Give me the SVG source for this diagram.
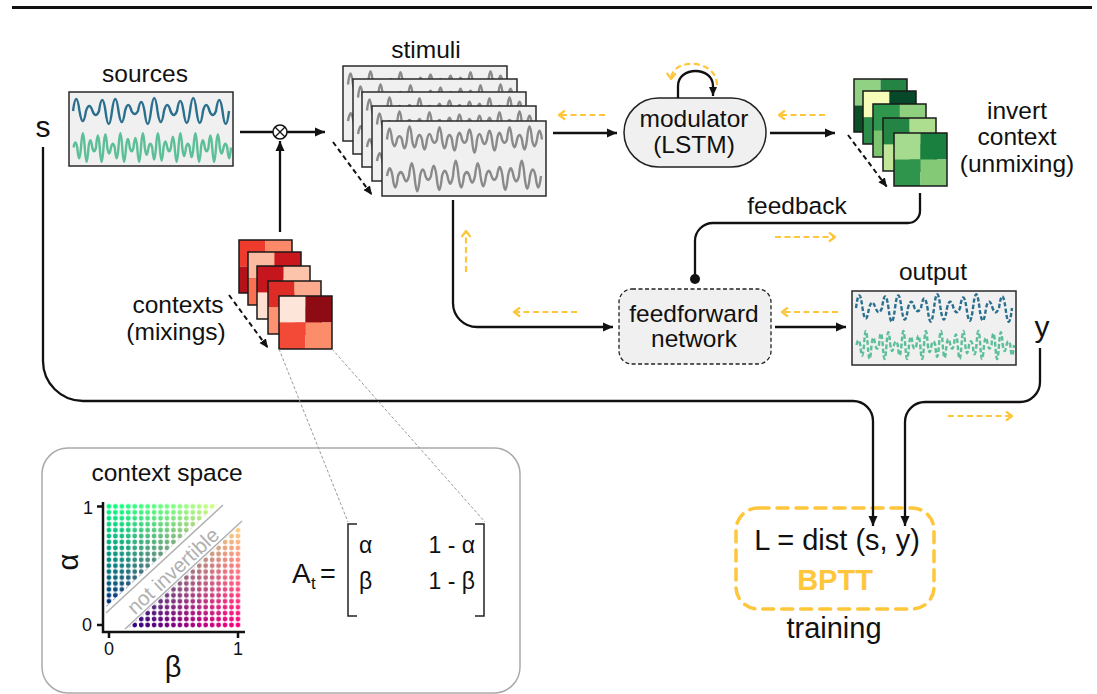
<svg xmlns="http://www.w3.org/2000/svg" xmlns:xlink="http://www.w3.org/1999/xlink" width="1097" height="694" viewBox="0 0 1097 694">
  <style>
    text { font-family: "Liberation Sans", Arial, Helvetica, sans-serif; fill: #111; }
    .lbl { font-size: 24.5px; text-anchor: middle; }
    .var { font-size: 30px; text-anchor: middle; }
    .tick { font-size: 18px; text-anchor: middle; }
    .mat { font-size: 23px; }
    .panel-box { fill: #f0f0f0; stroke: #2a2a2a; stroke-width: 1.5; }
    .wave { fill: none; stroke-width: 2.4; stroke-linejoin: round; vector-effect: non-scaling-stroke; }
    .blue { stroke: #2b6f8e; }
    .green { stroke: #5cbf98; }
    .grey { stroke: #8a8a8a; }
    .dashed-wave { stroke-dasharray: 4 2; }
    .cell-border { fill: none; stroke: #1a1a1a; stroke-width: 1.5; }
    .conn { fill: none; stroke: #111; stroke-width: 2.3; }
    .conn-dash { fill: none; stroke: #111; stroke-width: 2; stroke-dasharray: 5 3.5; }
    .grad-flow { fill: none; stroke: #fec63a; stroke-width: 2.2; stroke-dasharray: 6 3.5; }
    .guide { fill: none; stroke: #9a9a9a; stroke-width: 1; stroke-dasharray: 3 2; }
  </style>
  <defs>
    <marker id="arrow" markerUnits="userSpaceOnUse" markerWidth="11" markerHeight="10" refX="10" refY="5" orient="auto">
      <path d="M0,0.5 L10,5 L0,9.5 z" fill="#111"/>
    </marker>
    <marker id="arrow-small" markerUnits="userSpaceOnUse" markerWidth="10" markerHeight="9" refX="9" refY="4.5" orient="auto">
      <path d="M0,0.5 L9,4.5 L0,8.5 z" fill="#111"/>
    </marker>
    <marker id="chevron" markerUnits="userSpaceOnUse" markerWidth="10" markerHeight="11" refX="7.5" refY="5.5" orient="auto">
      <path d="M1.5,1 L7.5,5.5 L1.5,10" fill="none" stroke="#fec63a" stroke-width="2.2" stroke-linejoin="round"/>
    </marker>
    <marker id="dot" markerUnits="userSpaceOnUse" markerWidth="12" markerHeight="12" refX="6" refY="6" orient="auto">
      <circle cx="6" cy="6" r="5" fill="#111"/>
    </marker>

    <!-- signal traces, drawn around a zero line -->
    <path id="wave-a" d="M0,0 Q3.25,-24 6.5,0 Q9.75,20 13,0 Q16.25,-10 19.5,0 Q22.75,8 26,0 Q29.25,-22 32.5,0 Q35.75,26 39,0 Q42.25,-24 45.5,0 Q48.75,22 52,0 Q55.25,-12 58.5,0 Q61.75,6 65,0 Q68.25,-18 71.5,0 Q74.75,26 78,0 Q81.25,-26 84.5,0 Q87.75,22 91,0 Q94.25,-12 97.5,0 Q100.75,8 104,0 Q107.25,-20 110.5,0 Q113.75,24 117,0 Q120.25,-26 123.5,0 Q126.75,24 130,0 Q133.25,-12 136.5,0 Q139.75,8 143,0 Q146.25,-22 149.5,0 Q152.75,26 156,0"/>
    <path id="wave-b" d="M0,0 Q1.875,-8 3.75,0 Q5.625,18 7.5,0 Q9.375,-24 11.25,0 Q13.125,24 15,0 Q16.875,-12 18.75,0 Q20.625,6 22.5,0 Q24.375,-20 26.25,0 Q28.125,24 30,0 Q31.875,-22 33.75,0 Q35.625,10 37.5,0 Q39.375,-6 41.25,0 Q43.125,18 45,0 Q46.875,-24 48.75,0 Q50.625,24 52.5,0 Q54.375,-14 56.25,0 Q58.125,6 60,0 Q61.875,-16 63.75,0 Q65.625,24 67.5,0 Q69.375,-24 71.25,0 Q73.125,12 75,0 Q76.875,-6 78.75,0 Q80.625,20 82.5,0 Q84.375,-24 86.25,0 Q88.125,22 90,0 Q91.875,-10 93.75,0 Q95.625,6 97.5,0 Q99.375,-18 101.25,0 Q103.125,24 105,0 Q106.875,-24 108.75,0 Q110.625,14 112.5,0 Q114.375,-6 116.25,0 Q118.125,16 120,0 Q121.875,-24 123.75,0 Q125.625,24 127.5,0 Q129.375,-12 131.25,0 Q133.125,6 135,0 Q136.875,-20 138.75,0 Q140.625,24 142.5,0 Q144.375,-22 146.25,0 Q148.125,10 150,0 Q151.875,-6 153.75,0 Q155.625,18 157.5,0"/>
    <path id="wave-c" d="M0,0 Q2.5,-20 5,0 Q7.5,12 10,0 Q12.5,-6 15,0 Q17.5,16 20,0 Q22.5,-24 25,0 Q27.5,14 30,0 Q32.5,-8 35,0 Q37.5,18 40,0 Q42.5,-10 45,0 Q47.5,6 50,0 Q52.5,-22 55,0 Q57.5,16 60,0 Q62.5,-8 65,0 Q67.5,20 70,0 Q72.5,-12 75,0 Q77.5,6 80,0 Q82.5,-18 85,0 Q87.5,24 90,0 Q92.5,-10 95,0 Q97.5,8 100,0 Q102.5,-16 105,0 Q107.5,20 110,0 Q112.5,-12 115,0 Q117.5,6 120,0 Q122.5,-22 125,0 Q127.5,14 130,0 Q132.5,-8 135,0 Q137.5,18 140,0 Q142.5,-24 145,0 Q147.5,12 150,0 Q152.5,-16 155,0"/>
    <path id="wave-d" d="M0,0 Q2.75,-12 5.5,0 Q8.25,18 11,0 Q13.75,-6 16.5,0 Q19.25,8 22,0 Q24.75,-20 27.5,0 Q30.25,24 33,0 Q35.75,-10 38.5,0 Q41.25,6 44,0 Q46.75,-16 49.5,0 Q52.25,22 55,0 Q57.75,-8 60.5,0 Q63.25,12 66,0 Q68.75,-24 71.5,0 Q74.25,18 77,0 Q79.75,-6 82.5,0 Q85.25,10 88,0 Q90.75,-20 93.5,0 Q96.25,16 99,0 Q101.75,-8 104.5,0 Q107.25,6 110,0 Q112.75,-14 115.5,0 Q118.25,22 121,0 Q123.75,-12 126.5,0 Q129.25,8 132,0 Q134.75,-24 137.5,0 Q140.25,20 143,0 Q145.75,-10 148.5,0 Q151.25,18 154,0"/>

    <!-- one stimulus card: two mixed signals -->
    <g id="stim-card">
      <rect class="panel-box" x="0" y="0" width="164" height="75"/>
      <use href="#wave-c" class="wave grey" transform="translate(5,18.5) scale(1,1.1)"/>
      <use href="#wave-d" class="wave grey" transform="translate(5,55) scale(1,1.25)"/>
    </g>

    <!-- context space: colour = (beta, alpha) -->
    <linearGradient id="g-beta" gradientUnits="userSpaceOnUse" x1="109" y1="0" x2="238" y2="0">
      <stop offset="0" stop-color="rgb(0,0,128)"/>
      <stop offset="1" stop-color="rgb(255,0,128)"/>
    </linearGradient>
    <linearGradient id="g-alpha" gradientUnits="userSpaceOnUse" x1="0" y1="625" x2="0" y2="506.4">
      <stop offset="0" stop-color="rgb(0,0,0)"/>
      <stop offset="1" stop-color="rgb(0,255,0)"/>
    </linearGradient>
    <pattern id="dot-grid" patternUnits="userSpaceOnUse" x="105.775" y="503.435" width="6.45" height="5.93">
      <circle cx="3.225" cy="2.965" r="2.35" fill="#fff"/>
    </pattern>
    <mask id="dot-mask" maskUnits="userSpaceOnUse" x="100" y="495" width="150" height="140">
      <rect x="100" y="495" width="150" height="140" fill="url(#dot-grid)"/>
    </mask>
    <clipPath id="invertible">
      <polygon points="105.8,607.2 105.8,503.4 218.7,503.4"/>
      <polygon points="128.4,628 241.2,628 241.2,524.2"/>
    </clipPath>
  </defs>

  <rect x="0" y="0" width="1097" height="694" fill="#fff"/>
  <line x1="12" y1="7.5" x2="1092" y2="7.5" stroke="#111" stroke-width="3"/>

  <!-- context space panel -->
  <g id="context-space">
    <rect x="42" y="448" width="478" height="245" rx="26" fill="#fff" stroke="#aaa" stroke-width="1.5"/>
    <text class="lbl" x="167" y="481">context space</text>
    <g clip-path="url(#invertible)">
      <g mask="url(#dot-mask)">
        <g style="isolation:isolate">
          <rect x="100" y="495" width="150" height="140" fill="url(#g-beta)"/>
          <rect x="100" y="495" width="150" height="140" fill="url(#g-alpha)" style="mix-blend-mode:screen"/>
        </g>
      </g>
    </g>
    <line x1="106" y1="613" x2="223" y2="505" stroke="#b0b0b0" stroke-width="1.5"/>
    <line x1="125" y1="629" x2="242" y2="521" stroke="#b0b0b0" stroke-width="1.5"/>
    <text x="0" y="7" transform="translate(173,571) rotate(-42.6)" style="font-size:20.5px;fill:#b0b0b0;text-anchor:middle">not invertible</text>
    <path d="M103,502 V632 H245" fill="none" stroke="#111" stroke-width="2.5"/>
    <path d="M97,506.4 H103 M97,625 H103 M109,632 V638 M238,632 V638" stroke="#111" stroke-width="2.5"/>
    <text class="tick" x="88" y="514">1</text>
    <text class="tick" x="87" y="631">0</text>
    <text class="tick" x="109" y="655">0</text>
    <text class="tick" x="238" y="655">1</text>
    <text x="0" y="0" transform="translate(78,562) rotate(-90)" style="font-size:29px;text-anchor:middle">α</text>
    <text x="173" y="677" style="font-size:29px;text-anchor:middle">β</text>
  </g>

  <!-- mixing matrix -->
  <g id="mixing-matrix">
    <text x="292" y="583" style="font-size:28px">A</text>
    <text x="311" y="589" style="font-size:17px">t</text>
    <text x="320" y="583" style="font-size:27px">=</text>
    <path d="M357,524 H348 V616 H357 M475,524 H484 V616 H475" fill="none" stroke="#222" stroke-width="1.5"/>
    <text class="mat" x="359" y="553">α</text>
    <text class="mat" x="475" y="553" text-anchor="end">1 - α</text>
    <text class="mat" x="359" y="589">β</text>
    <text class="mat" x="475" y="589" text-anchor="end">1 - β</text>
  </g>

  <!-- sources -->
  <g id="sources">
    <text class="lbl" x="145" y="82">sources</text>
    <rect class="panel-box" x="69" y="92" width="164" height="74"/>
    <use href="#wave-a" class="wave blue" transform="translate(73,111)"/>
    <use href="#wave-b" class="wave green" transform="translate(73.5,147.5) scale(1,1.18)"/>
  </g>
  <text class="var" x="43" y="137" id="label-s">s</text>

  <!-- mixing operator -->
  <g id="mix-op">
    <circle cx="280" cy="132" r="7" fill="#fff" stroke="#111" stroke-width="1.5"/>
    <path d="M275,127 L285,137 M275,137 L285,127" stroke="#111" stroke-width="1.3"/>
  </g>

  <!-- stimuli stack -->
  <g id="stimuli">
    <text class="lbl" x="426" y="58">stimuli</text>
    <use href="#stim-card" x="343" y="66"/>
    <use href="#stim-card" x="353" y="79"/>
    <use href="#stim-card" x="362" y="92"/>
    <use href="#stim-card" x="372" y="106"/>
    <use href="#stim-card" x="382" y="121"/>
  </g>

  <!-- modulator -->
  <g id="modulator">
    <rect x="624" y="98" width="142" height="69" rx="34.5" fill="#f0f0f0" stroke="#222" stroke-width="1.5"/>
    <text class="lbl" x="694" y="127">modulator</text>
    <text class="lbl" x="694" y="153">(LSTM)</text>
  </g>

  <!-- invert context stack (greens) -->
  <g id="invert-context">
    <g transform="translate(854,79)">
      <rect width="26.5" height="26.5" fill="#91d183"/><rect x="26.5" width="26.5" height="26.5" fill="#238443"/>
      <rect y="26.5" width="26.5" height="26.5" fill="#0b4f27"/><rect x="26.5" y="26.5" width="26.5" height="26.5" fill="#78c679"/>
      <rect class="cell-border" width="53" height="53"/>
    </g>
    <g transform="translate(863,91)">
      <rect width="26.5" height="26.5" fill="#f7fcb9"/><rect x="26.5" width="26.5" height="26.5" fill="#07482a"/>
      <rect y="26.5" width="26.5" height="26.5" fill="#2c8c49"/><rect x="26.5" y="26.5" width="26.5" height="26.5" fill="#a6d96a"/>
      <rect class="cell-border" width="53" height="53"/>
    </g>
    <g transform="translate(873,104)">
      <rect width="26.5" height="26.5" fill="#2f974d"/><rect x="26.5" width="26.5" height="26.5" fill="#8fd07f"/>
      <rect y="26.5" width="26.5" height="26.5" fill="#7cc470"/><rect x="26.5" y="26.5" width="26.5" height="26.5" fill="#238443"/>
      <rect class="cell-border" width="53" height="53"/>
    </g>
    <g transform="translate(883,118)">
      <rect width="26.5" height="26.5" fill="#238443"/><rect x="26.5" width="26.5" height="26.5" fill="#addd8e"/>
      <rect y="26.5" width="26.5" height="26.5" fill="#c2e699"/><rect x="26.5" y="26.5" width="26.5" height="26.5" fill="#238443"/>
      <rect class="cell-border" width="53" height="53"/>
    </g>
    <g transform="translate(894,133)">
      <rect width="26.5" height="26.5" fill="#a5db8f"/><rect x="26.5" width="26.5" height="26.5" fill="#19803f"/>
      <rect y="26.5" width="26.5" height="26.5" fill="#2f944c"/><rect x="26.5" y="26.5" width="26.5" height="26.5" fill="#84ca76"/>
      <rect class="cell-border" width="53" height="53"/>
    </g>
    <text class="lbl" x="1017" y="119">invert</text>
    <text class="lbl" x="1017" y="145">context</text>
    <text class="lbl" x="1017" y="172">(unmixing)</text>
  </g>

  <!-- contexts stack (reds) -->
  <g id="contexts">
    <g transform="translate(239,240)">
      <rect width="26.5" height="26.5" fill="#ef3b2c"/><rect x="26.5" width="26.5" height="26.5" fill="#fc8a6a"/>
      <rect y="26.5" width="26.5" height="26.5" fill="#b21218"/><rect x="26.5" y="26.5" width="26.5" height="26.5" fill="#fb6a4a"/>
      <rect class="cell-border" width="53" height="53"/>
    </g>
    <g transform="translate(248,252)">
      <rect width="26.5" height="26.5" fill="#fcbba1"/><rect x="26.5" width="26.5" height="26.5" fill="#c8171d"/>
      <rect y="26.5" width="26.5" height="26.5" fill="#fb7050"/><rect x="26.5" y="26.5" width="26.5" height="26.5" fill="#fcbba1"/>
      <rect class="cell-border" width="53" height="53"/>
    </g>
    <g transform="translate(257,266)">
      <rect width="26.5" height="26.5" fill="#c4161c"/><rect x="26.5" width="26.5" height="26.5" fill="#fcc5ab"/>
      <rect y="26.5" width="26.5" height="26.5" fill="#fee0d2"/><rect x="26.5" y="26.5" width="26.5" height="26.5" fill="#ef3b2c"/>
      <rect class="cell-border" width="53" height="53"/>
    </g>
    <g transform="translate(268,281)">
      <rect width="26.5" height="26.5" fill="#dd2c25"/><rect x="26.5" width="26.5" height="26.5" fill="#fcab8f"/>
      <rect y="26.5" width="26.5" height="26.5" fill="#fc9272"/><rect x="26.5" y="26.5" width="26.5" height="26.5" fill="#e32f27"/>
      <rect class="cell-border" width="53" height="53"/>
    </g>
    <g transform="translate(279,296)">
      <rect width="26.5" height="26.5" fill="#fee5d9"/><rect x="26.5" width="26.5" height="26.5" fill="#8d0c14"/>
      <rect y="26.5" width="26.5" height="26.5" fill="#f24a36"/><rect x="26.5" y="26.5" width="26.5" height="26.5" fill="#fc8d6b"/>
      <rect class="cell-border" width="53" height="53"/>
    </g>
    <text class="lbl" x="178" y="313">contexts</text>
    <text class="lbl" x="176" y="340">(mixings)</text>
  </g>

  <!-- feedforward network -->
  <g id="feedforward">
    <rect x="619" y="289" width="152" height="75" rx="13" fill="#f0f0f0" stroke="#222" stroke-width="1.3" stroke-dasharray="4 2.5"/>
    <text class="lbl" x="694" y="322">feedforward</text>
    <text class="lbl" x="694" y="347">network</text>
  </g>

  <!-- output -->
  <g id="output">
    <text class="lbl" x="933" y="280">output</text>
    <rect class="panel-box" x="852" y="291" width="164" height="74"/>
    <use href="#wave-a" class="wave blue dashed-wave" transform="translate(856,308) scale(1,1.05)"/>
    <use href="#wave-b" class="wave green dashed-wave" transform="translate(856.5,345) scale(1,1.15)"/>
  </g>
  <text class="var" x="1042" y="337" id="label-y">y</text>

  <!-- training -->
  <g id="training">
    <rect x="736" y="508" width="198" height="101" rx="22" fill="none" stroke="#fec63a" stroke-width="3.5" stroke-dasharray="11 8" stroke-linecap="round"/>
    <text x="837" y="550" style="font-size:29px;text-anchor:middle">L = dist (s, y)</text>
    <text x="835" y="590" style="font-size:29px;text-anchor:middle;font-weight:bold;fill:#fec63a">BPTT</text>
    <text x="834" y="638" style="font-size:29px;text-anchor:middle">training</text>
  </g>

  <!-- connectors -->
  <g id="connectors">
    <path class="conn" d="M240,132 H273"/>
    <path class="conn" d="M287,132 H325" marker-end="url(#arrow)"/>
    <path class="conn" d="M280,232 V141" marker-end="url(#arrow)"/>
    <path class="conn" d="M553,133 H617" marker-end="url(#arrow)"/>
    <path class="conn" d="M770,133 H835" marker-end="url(#arrow)"/>
    <path class="conn" d="M678,98 V86 C678,66 713,66 713,86 V96" marker-end="url(#arrow-small)"/>
    <path class="conn" d="M920,193 V211 A12,12 0 0 1 908,223 H713 A18,18 0 0 0 695,241 V279" marker-end="url(#dot)"/>
    <path class="conn" d="M453,200 V303 A24,24 0 0 0 477,327 H613" marker-end="url(#arrow)"/>
    <path class="conn" d="M775,327 H846" marker-end="url(#arrow)"/>
    <path class="conn" d="M43,147 V361 A40,40 0 0 0 83,401 H853 A20,20 0 0 1 873,421 V526" marker-end="url(#arrow)"/>
    <path class="conn" d="M1040,348 V382 A20,20 0 0 1 1020,402 H925 A20,20 0 0 0 905,422 V526" marker-end="url(#arrow)"/>

    <!-- stacking direction -->
    <path class="conn-dash" d="M333,142 L372,195" marker-end="url(#arrow-small)"/>
    <path class="conn-dash" d="M848,135 L887,187" marker-end="url(#arrow-small)"/>
    <path class="conn-dash" d="M229,295 L268,348" marker-end="url(#arrow-small)"/>

    <!-- zoom-in guides -->
    <path class="guide" d="M279,349 L348,522"/>
    <path class="guide" d="M332,349 L485,522"/>

    <!-- gradient flow -->
    <path class="grad-flow" d="M605,115 H559" marker-end="url(#chevron)"/>
    <path class="grad-flow" d="M825,115 H779" marker-end="url(#chevron)"/>
    <path class="grad-flow" d="M775,237 H835" marker-end="url(#chevron)"/>
    <path class="grad-flow" d="M466,272 V231" marker-end="url(#chevron)"/>
    <path class="grad-flow" d="M577,312 H514" marker-end="url(#chevron)"/>
    <path class="grad-flow" d="M838,312 H782" marker-end="url(#chevron)"/>
    <path class="grad-flow" d="M948,416 H1012" marker-end="url(#chevron)"/>
    <path class="grad-flow" d="M717,85 C717,59 672,57 671,79" marker-end="url(#chevron)"/>
  </g>
  <text class="lbl" x="797" y="214">feedback</text>
</svg>
